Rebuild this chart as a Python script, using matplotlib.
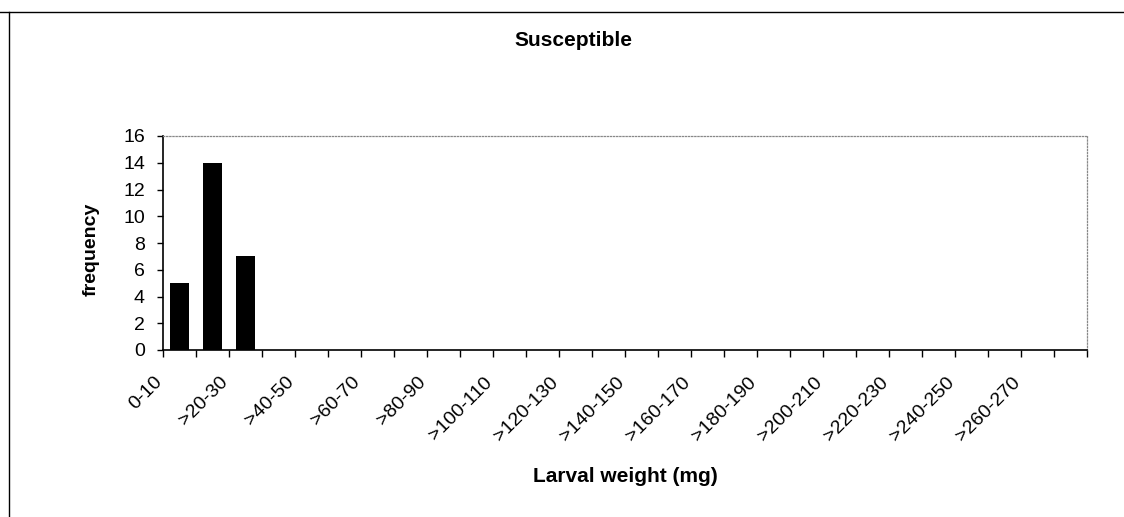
import matplotlib.pyplot as plt
import matplotlib.transforms as mtransforms
from matplotlib.lines import Line2D

plt.rcParams["font.family"] = ["Liberation Sans", "DejaVu Sans"]

# weight classes (mg), 10 mg wide
classes = ["0-10"] + [">%d-%d" % (lo, lo + 10) for lo in range(10, 280, 10)]
freq = [5, 14, 7] + [0] * 25
yticks = [0, 2, 4, 6, 8, 10, 12, 14, 16]

fig = plt.figure(figsize=(11.24, 5.17), dpi=100)
ax = fig.add_axes([163 / 1124, 1 - 350 / 517, 924 / 1124, 214 / 517])

x = list(range(len(classes)))
ax.bar(x, freq, width=0.55, color="black")

ax.set_xlim(-0.5, len(classes) - 0.5)
ax.set_ylim(0, 16)
ax.set_yticks(yticks)
ax.tick_params(axis="y", direction="out", length=4, width=1, pad=9, labelsize=14)

# ticks on class boundaries, labels on every other class centre
ax.set_xticks([i - 0.5 for i in range(len(classes) + 1)])
ax.set_xticklabels([])
ax.tick_params(axis="x", which="major", direction="out", length=5, width=1)
ax.set_xticks(x[::2], minor=True)
ax.set_xticklabels(classes[::2], minor=True, rotation=45, ha="right", fontsize=14)
ax.tick_params(axis="x", which="minor", length=0, pad=17)
shift = mtransforms.ScaledTranslation(-14 / 100, 0, fig.dpi_scale_trans)
for lab in ax.xaxis.get_minorticklabels():
    lab.set_transform(lab.get_transform() + shift)

for side in ["top", "right"]:
    ax.spines[side].set_color("#888888")
    ax.spines[side].set_linestyle((0, (1, 1.5)))
    ax.spines[side].set_linewidth(0.9)
for side in ["left", "bottom"]:
    ax.spines[side].set_color("black")
    ax.spines[side].set_linewidth(1.2)

ax.set_ylabel("frequency", fontsize=14, fontweight="bold")
ax.yaxis.set_label_coords(-63 / 924, 0.47)
ax.set_xlabel("Larval weight (mg)", fontsize=15, fontweight="bold")
ax.xaxis.set_label_coords(0.5, -117 / 214)

fig.text(573 / 1124, 1 - 40 / 517, "Susceptible", fontsize=15, fontweight="bold",
         ha="center", va="center")

# outer chart frame (top and left edges only visible)
fig.add_artist(Line2D([0, 1], [1 - 12 / 517, 1 - 12 / 517], color="black", lw=1,
                      transform=fig.transFigure))
fig.add_artist(Line2D([9 / 1124, 9 / 1124], [0, 1 - 12 / 517], color="black", lw=1,
                      transform=fig.transFigure))

fig.savefig("out.png", dpi=100)
